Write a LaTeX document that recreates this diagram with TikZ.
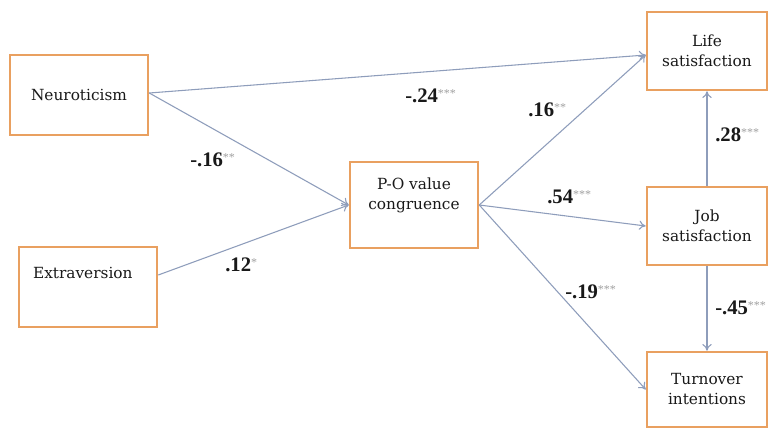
\documentclass[tikz,border=0pt]{standalone}
\usepackage{fontspec}
\setmainfont{Liberation Serif}
\newfontfamily\boxfont{DejaVu Serif}
\usetikzlibrary{arrows.meta}
\definecolor{boxorange}{HTML}{E9A060}
\definecolor{arrowblue}{HTML}{8E9DBB}
\definecolor{stargray}{HTML}{A0A0A0}
\newcommand\coef[2]{\textbf{#1}\raisebox{0.5ex}{\color{stargray}\fontsize{9}{10}\selectfont #2}}
\begin{document}
\begin{tikzpicture}[x=0.75pt,y=-0.75pt,
  varbox/.style={draw=boxorange,line width=1.9pt,fill=white,inner sep=0pt,
    font=\boxfont\fontsize{11.5}{15}\selectfont,align=center,text=black!90},
  path/.style={draw=arrowblue,line width=0.8pt,-{To[length=5pt,width=7pt]}},
  coeflab/.style={anchor=west,inner sep=0pt,font=\fontsize{15.5}{17}\selectfont,text=black!90}]
\useasboundingbox (0,0) rectangle (776,429);
\fill[white] (0,0) rectangle (776,429);
\node[varbox,minimum width=103.5pt,minimum height=60pt] (neuro) at (79,95) {Neuroticism};
\node[varbox,minimum width=103.5pt,minimum height=60pt,
  label={[anchor=west,xshift=8pt,yshift=10.5pt,font=\boxfont\fontsize{11.5}{15}\selectfont,text=black!90]west:Extraversion}] (extra) at (88,287) {};
\node[varbox,minimum width=96pt,minimum height=64.5pt,
  label={[align=center,yshift=7.5pt,font=\boxfont\fontsize{11.5}{15}\selectfont,text=black!90]center:P-O value\\congruence}] (po) at (414,205) {};
\node[varbox,minimum width=90pt,minimum height=58.5pt] (life) at (707,51) {Life\\satisfaction};
\node[varbox,minimum width=90pt,minimum height=58.5pt] (job) at (707,226) {Job\\satisfaction};
\node[varbox,minimum width=90pt,minimum height=56.25pt] (turn) at (707,389.5) {Turnover\\intentions};

\draw[path] ([yshift=1.5pt]neuro.east) -- ([yshift=-3pt]life.west);
\draw[path] ([yshift=1.5pt]neuro.east) -- (po.west);
\draw[path] ([yshift=9pt]extra.east) -- (po.west);
\draw[path] (po.east) -- ([yshift=-3pt]life.west);
\draw[path] (po.east) -- (job.west);
\draw[path] (po.east) -- (turn.west);
\draw[path] (job.north) -- (life.south);
\draw[path] (job.south) -- (turn.north);

\node[coeflab] (l1) at (405,96) {\coef{-.24}{***}};
\node[coeflab] (l2) at (190,160) {\coef{-.16}{**}};
\node[coeflab] (l3) at (225,265) {\coef{.12}{*}};
\node[coeflab] (l4) at (528,110) {\coef{.16}{**}};
\node[coeflab] (l5) at (547,197) {\coef{.54}{***}};
\node[coeflab] (l6) at (715,135) {\coef{.28}{***}};
\node[coeflab] (l7) at (565,292) {\coef{-.19}{***}};
\node[coeflab] (l8) at (715,308) {\coef{-.45}{***}};
\end{tikzpicture}
\end{document}
